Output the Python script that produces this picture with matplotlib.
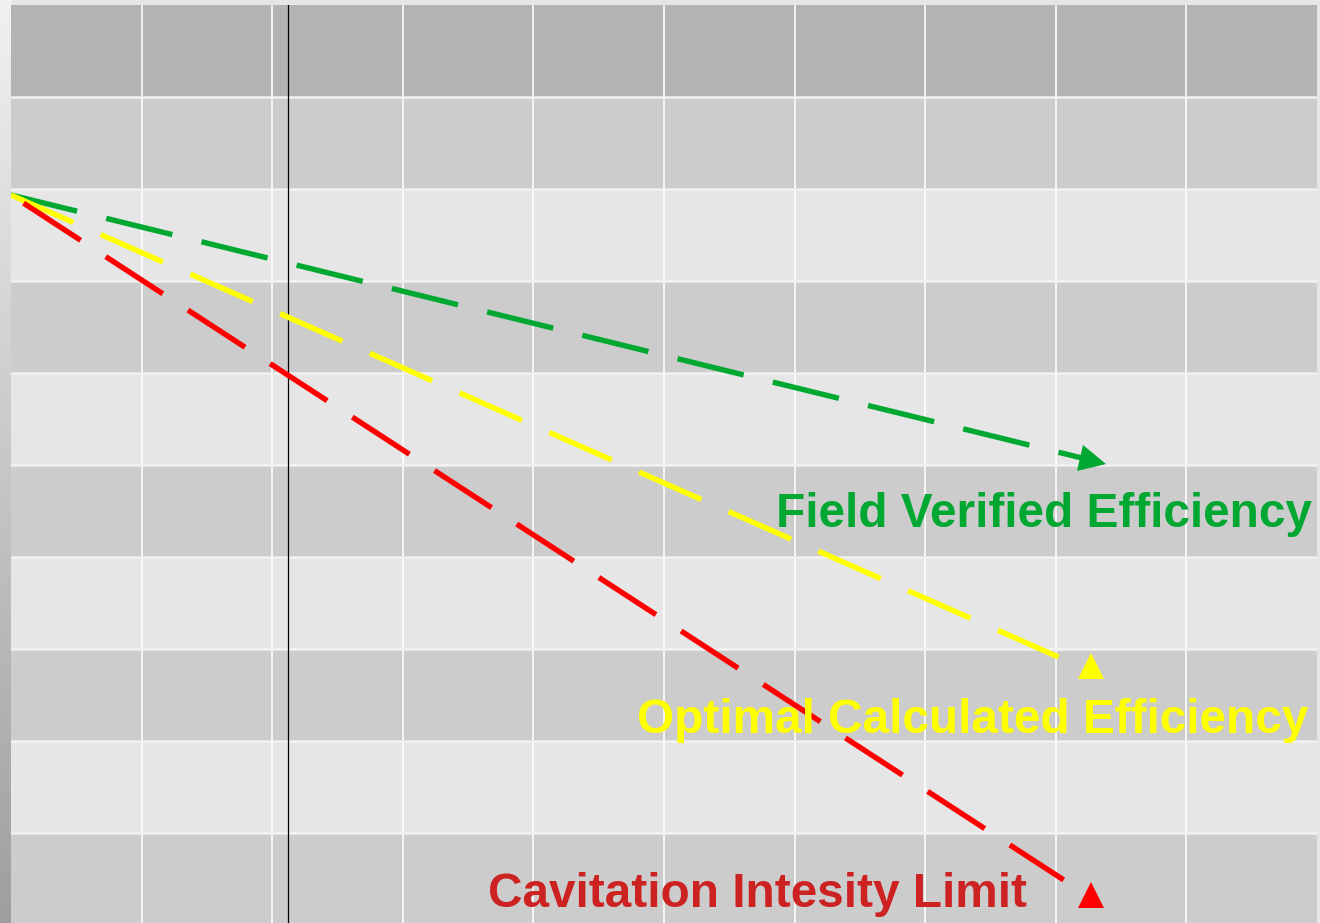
import numpy as np
import matplotlib
matplotlib.use("Agg")
import matplotlib.pyplot as plt
from matplotlib.markers import MarkerStyle
from matplotlib.transforms import Affine2D

# grid: 10 columns x 10 rows, row 0 at the bottom
band_colors = ['#cccccc', '#e6e6e6', '#cccccc', '#e6e6e6', '#cccccc',
               '#e6e6e6', '#cccccc', '#e6e6e6', '#cccccc', '#b3b3b3']
n_cols = 10
n_rows = 10

origin = (0.0, 7.935)
green_end = (8.20, 5.076)
green_head = (8.285, 5.043)
yellow_end = (8.02, 2.913)
yellow_mark = (8.27, 2.81)
red_end = (8.06, 0.49)
red_mark = (8.27, 0.326)
marker_x = 2.12

labels = ['Field Verified Efficiency', 'Optimal Calculated Efficiency',
          'Cavitation Intesity Limit']
label_pos = [(9.96, 4.326), (9.93, 2.087), (3.65, 0.196)]
label_ha = ['right', 'right', 'left']

GREEN = '#00a832'
YELLOW = '#ffff00'
RED = '#ff0000'
RED_TEXT = '#cc2222'
text_colors = [GREEN, YELLOW, RED_TEXT]


def dashed(ax, p0, p1, color, offset=0.0):
    lw = 3.9
    ax.plot([p0[0], p1[0]], [p0[1], p1[1]], color=color, lw=lw,
            dash_capstyle='butt',
            linestyle=(offset / lw, (49 / lw, 21.6 / lw)), zorder=3)


fig = plt.figure(figsize=(13.2, 9.23), dpi=100)
fig.patch.set_facecolor('#e6e6e6')

# left edge shading
bg = fig.add_axes([0, 0, 11 / 1320, 1])
grad = np.linspace(0.94, 0.62, 200).reshape(-1, 1)
bg.imshow(grad, cmap='gray', vmin=0, vmax=1, aspect='auto', extent=[0, 1, 0, 1])
bg.axis('off')

ax = fig.add_axes([11 / 1320, -2 / 923, 1306 / 1320, 920 / 923])
ax.set_xlim(0, n_cols)
ax.set_ylim(0, n_rows)

for i, c in enumerate(band_colors):
    ax.axhspan(i, i + 1, color=c, lw=0, zorder=0)
for x in range(1, n_cols):
    ax.axvline(x, color='white', lw=1.3, alpha=0.9, zorder=1)
for y in range(1, n_rows):
    ax.axhline(y, color='#f2f2f2', lw=1.8, zorder=1)

ax.axvline(marker_x, color='black', lw=0.9, zorder=2)

dashed(ax, origin, green_end, GREEN)
dashed(ax, origin, yellow_end, YELLOW)
dashed(ax, origin, red_end, RED, offset=59.8)

# arrow head on the green line
gx = np.array([origin[0], green_head[0]]) * 130.6
gy = np.array([origin[1], green_head[1]]) * 92
ang = np.degrees(np.arctan2(gy[1] - gy[0], gx[1] - gx[0]))
ax.plot(*green_head,
        marker=MarkerStyle('>', transform=Affine2D().rotate_deg(ang)),
        ms=19, color=GREEN, mew=0, zorder=4)
ax.plot(*yellow_mark, marker='^', ms=18.5, color=YELLOW, mew=0, zorder=4)
ax.plot(*red_mark, marker='^', ms=18.5, color=RED, mew=0, zorder=4)

for lab, pos, col, ha in zip(labels, label_pos, text_colors, label_ha):
    ax.text(*pos, lab, color=col, fontsize=34.4, fontweight='bold',
            family=['Liberation Sans', 'DejaVu Sans'],
            ha=ha, va='baseline', zorder=5)

ax.set_xticks([])
ax.set_yticks([])
for s in ax.spines.values():
    s.set_visible(False)

fig.savefig('out.png', dpi=100, facecolor=fig.get_facecolor())
